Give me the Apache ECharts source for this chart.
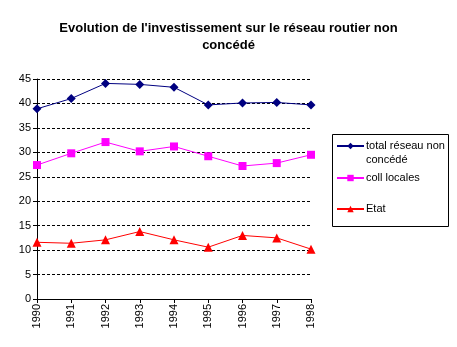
<!DOCTYPE html>
<html>
<head>
<meta charset="utf-8">
<script src="https://cdn.jsdelivr.net/npm/echarts@6/dist/echarts.min.js"></script>
<style>
  html, body { margin: 0; padding: 0; background: #fff; }
  #chart { width: 457px; height: 347px; }
</style>
</head>
<body>
<div id="chart"></div>
<script>
// Investment on the non-conceded road network, 1990-1998
const years = ['1990', '1991', '1992', '1993', '1994', '1995', '1996', '1997', '1998'];
const totalReseau = [38.9, 41.0, 44.1, 43.9, 43.3, 39.7, 40.1, 40.2, 39.7];
const collLocales = [27.4, 29.8, 32.1, 30.2, 31.2, 29.2, 27.2, 27.8, 29.5];
const etat = [11.6, 11.4, 12.1, 13.8, 12.1, 10.6, 13.0, 12.5, 10.2];
const yTicks = { min: 0, max: 45, interval: 5 };

const FONT = '"Liberation Sans", Arial, sans-serif';
const chart = echarts.init(document.getElementById('chart'));

// one legend block per series so each icon sits on the first text line
function legendAt(name, top, text) {
  return {
    data: [name],
    left: 336,
    top: top,
    orient: 'vertical',
    itemWidth: 27,
    itemHeight: 8,
    itemGap: 0,
    padding: 0,
    selectedMode: false,
    formatter: () => text,
    textStyle: { fontFamily: FONT, fontSize: 11, color: '#000', lineHeight: 14, padding: [0, 0, 0, -3] }
  };
}

chart.setOption({
  animation: false,
  title: {
    text: "Evolution de l'investissement sur le réseau routier non\nconcédé",
    left: 'center',
    top: 15,
    textStyle: { fontFamily: FONT, fontSize: 13, fontWeight: 'bold', color: '#000', lineHeight: 17 }
  },
  legend: [
    legendAt('total réseau non concédé', 125, '\ntotal réseau non\nconcédé'),
    legendAt('coll locales', 171, 'coll locales'),
    legendAt('Etat', 202, 'Etat')
  ],
  graphic: [{
    type: 'rect',
    shape: { x: 332.5, y: 134.5, width: 116, height: 92 },
    style: { fill: 'none', stroke: '#000', lineWidth: 1 },
    silent: true
  }],
  grid: { left: 37, right: 146, top: 79, bottom: 48, containLabel: false },
  xAxis: {
    type: 'category',
    data: years,
    boundaryGap: false,
    axisLine: { lineStyle: { color: '#000', width: 1 } },
    axisTick: { show: true, alignWithLabel: true, length: 4, lineStyle: { color: '#000' } },
    axisLabel: { rotate: 90, fontFamily: FONT, fontSize: 11, color: '#000', margin: 5, interval: 0 },
    splitLine: { show: false }
  },
  yAxis: {
    type: 'value',
    min: yTicks.min,
    max: yTicks.max,
    interval: yTicks.interval,
    axisLine: { show: true, lineStyle: { color: '#000', width: 1 } },
    axisTick: { show: true, length: 4, lineStyle: { color: '#000' } },
    axisLabel: { fontFamily: FONT, fontSize: 11, color: '#000', margin: 6 },
    splitLine: { show: true, lineStyle: { color: '#000', type: [3, 2], width: 1 } }
  },
  series: [
    {
      name: 'total réseau non concédé',
      type: 'line',
      data: totalReseau,
      symbol: 'diamond',
      symbolSize: 9,
      lineStyle: { color: '#000080', width: 1 },
      itemStyle: { color: '#000080' },
      z: 3
    },
    {
      name: 'coll locales',
      type: 'line',
      data: collLocales,
      symbol: 'rect',
      symbolSize: 8,
      lineStyle: { color: '#FF00FF', width: 1 },
      itemStyle: { color: '#FF00FF' },
      z: 3
    },
    {
      name: 'Etat',
      type: 'line',
      data: etat,
      symbol: 'triangle',
      symbolSize: 9,
      lineStyle: { color: '#FF0000', width: 1 },
      itemStyle: { color: '#FF0000' },
      z: 3
    }
  ]
});
</script>
</body>
</html>
